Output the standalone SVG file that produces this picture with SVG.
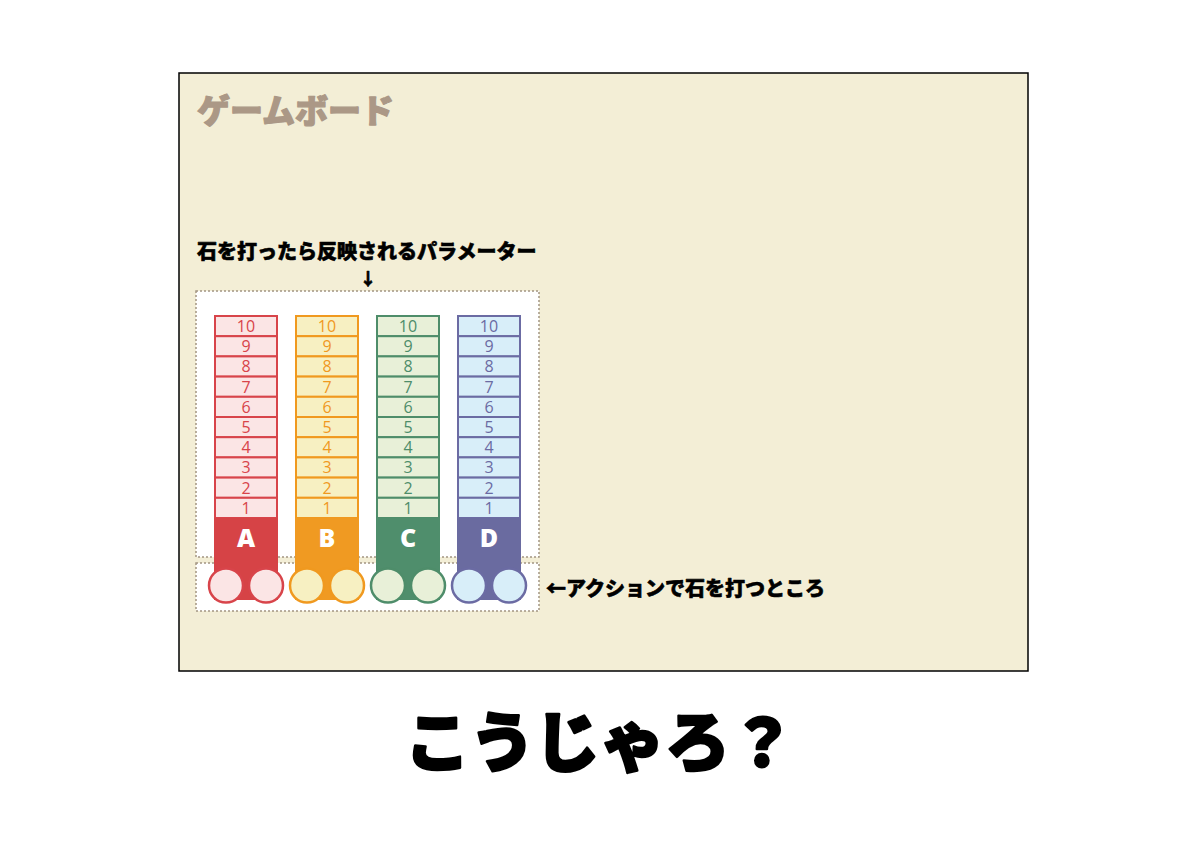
<svg xmlns="http://www.w3.org/2000/svg" width="1200" height="848" viewBox="0 0 1200 848">
<style>
.jp{font-family:"Noto Sans CJK JP","Noto Sans",sans-serif;font-weight:900;stroke-linejoin:round}
.num{font-family:"Open Sans","Noto Sans",sans-serif;font-weight:400;font-size:16px;text-anchor:middle}
.lab{font-family:"Open Sans","Noto Sans",sans-serif;font-weight:800;font-size:25px;fill:#fff;text-anchor:middle}
.dash{fill:#fff;stroke:#a39583;stroke-width:1.5;stroke-dasharray:2 2}
.cell{stroke-width:2}
circle{stroke-width:2.5}
.a rect.cell,.a circle{stroke:#d8444a;fill:#fbe5e5}.a .blk{fill:#d64346}.a .num{fill:#d8444a}
.b rect.cell,.b circle{stroke:#f0991f;fill:#f7f0c2}.b .blk{fill:#f09a22}.b .num{fill:#f0991f}
.c rect.cell,.c circle{stroke:#4e8d6a;fill:#e8f0d8}.c .blk{fill:#4f8e6c}.c .num{fill:#4e8d6a}
.d rect.cell,.d circle{stroke:#6b6ba3;fill:#d8eef9}.d .blk{fill:#6a6ba0}.d .num{fill:#6b6ba3}
</style>
<rect width="1200" height="848" fill="#fff"/>
<g id="board">
<rect x="179" y="73" width="849" height="598" fill="#f3eed6" stroke="#000" stroke-width="1.5"/>
<text class="jp" x="197" y="123" font-size="33" fill="#ab9886" stroke="#ab9886" stroke-width="1.2">ゲームボード</text>
</g>
<g id="param-area">
<rect class="dash" x="196" y="291" width="343" height="266"/>
<text class="jp" x="197" y="259" font-size="20" fill="#000" stroke="#000" stroke-width="0.6">石を打ったら反映されるパラメーター</text>
<text class="jp" x="368" y="285" font-size="17" fill="#000" stroke="#000" stroke-width="0.6" text-anchor="middle">↓</text>
</g>
<g id="action-area">
<rect class="dash" x="196" y="563" width="343" height="48"/>
<text class="jp" x="546" y="596" font-size="20" fill="#000" stroke="#000" stroke-width="0.6">←アクションで石を打つところ</text>
</g>
<g id="col-A" class="a">
<rect class="cell" x="215" y="316" width="62" height="20.2"/>
<rect class="cell" x="215" y="336.2" width="62" height="20.2"/>
<rect class="cell" x="215" y="356.4" width="62" height="20.2"/>
<rect class="cell" x="215" y="376.6" width="62" height="20.2"/>
<rect class="cell" x="215" y="396.8" width="62" height="20.2"/>
<rect class="cell" x="215" y="417" width="62" height="20.2"/>
<rect class="cell" x="215" y="437.2" width="62" height="20.2"/>
<rect class="cell" x="215" y="457.4" width="62" height="20.2"/>
<rect class="cell" x="215" y="477.6" width="62" height="20.2"/>
<rect class="cell" x="215" y="497.8" width="62" height="20.2"/>
<text class="num" x="246" y="332">10</text>
<text class="num" x="246" y="352.2">9</text>
<text class="num" x="246" y="372.4">8</text>
<text class="num" x="246" y="392.6">7</text>
<text class="num" x="246" y="412.8">6</text>
<text class="num" x="246" y="433">5</text>
<text class="num" x="246" y="453.2">4</text>
<text class="num" x="246" y="473.4">3</text>
<text class="num" x="246" y="493.6">2</text>
<text class="num" x="246" y="513.8">1</text>
<rect class="blk" x="214" y="518" width="64" height="82"/>
<circle cx="226" cy="585.5" r="17"/>
<circle cx="266" cy="585.5" r="17"/>
<text class="lab" x="246" y="547">A</text>
</g>
<g id="col-B" class="b">
<rect class="cell" x="296" y="316" width="62" height="20.2"/>
<rect class="cell" x="296" y="336.2" width="62" height="20.2"/>
<rect class="cell" x="296" y="356.4" width="62" height="20.2"/>
<rect class="cell" x="296" y="376.6" width="62" height="20.2"/>
<rect class="cell" x="296" y="396.8" width="62" height="20.2"/>
<rect class="cell" x="296" y="417" width="62" height="20.2"/>
<rect class="cell" x="296" y="437.2" width="62" height="20.2"/>
<rect class="cell" x="296" y="457.4" width="62" height="20.2"/>
<rect class="cell" x="296" y="477.6" width="62" height="20.2"/>
<rect class="cell" x="296" y="497.8" width="62" height="20.2"/>
<text class="num" x="327" y="332">10</text>
<text class="num" x="327" y="352.2">9</text>
<text class="num" x="327" y="372.4">8</text>
<text class="num" x="327" y="392.6">7</text>
<text class="num" x="327" y="412.8">6</text>
<text class="num" x="327" y="433">5</text>
<text class="num" x="327" y="453.2">4</text>
<text class="num" x="327" y="473.4">3</text>
<text class="num" x="327" y="493.6">2</text>
<text class="num" x="327" y="513.8">1</text>
<rect class="blk" x="295" y="518" width="64" height="82"/>
<circle cx="307" cy="585.5" r="17"/>
<circle cx="347" cy="585.5" r="17"/>
<text class="lab" x="327" y="547">B</text>
</g>
<g id="col-C" class="c">
<rect class="cell" x="377" y="316" width="62" height="20.2"/>
<rect class="cell" x="377" y="336.2" width="62" height="20.2"/>
<rect class="cell" x="377" y="356.4" width="62" height="20.2"/>
<rect class="cell" x="377" y="376.6" width="62" height="20.2"/>
<rect class="cell" x="377" y="396.8" width="62" height="20.2"/>
<rect class="cell" x="377" y="417" width="62" height="20.2"/>
<rect class="cell" x="377" y="437.2" width="62" height="20.2"/>
<rect class="cell" x="377" y="457.4" width="62" height="20.2"/>
<rect class="cell" x="377" y="477.6" width="62" height="20.2"/>
<rect class="cell" x="377" y="497.8" width="62" height="20.2"/>
<text class="num" x="408" y="332">10</text>
<text class="num" x="408" y="352.2">9</text>
<text class="num" x="408" y="372.4">8</text>
<text class="num" x="408" y="392.6">7</text>
<text class="num" x="408" y="412.8">6</text>
<text class="num" x="408" y="433">5</text>
<text class="num" x="408" y="453.2">4</text>
<text class="num" x="408" y="473.4">3</text>
<text class="num" x="408" y="493.6">2</text>
<text class="num" x="408" y="513.8">1</text>
<rect class="blk" x="376" y="518" width="64" height="82"/>
<circle cx="388" cy="585.5" r="17"/>
<circle cx="428" cy="585.5" r="17"/>
<text class="lab" x="408" y="547">C</text>
</g>
<g id="col-D" class="d">
<rect class="cell" x="458" y="316" width="62" height="20.2"/>
<rect class="cell" x="458" y="336.2" width="62" height="20.2"/>
<rect class="cell" x="458" y="356.4" width="62" height="20.2"/>
<rect class="cell" x="458" y="376.6" width="62" height="20.2"/>
<rect class="cell" x="458" y="396.8" width="62" height="20.2"/>
<rect class="cell" x="458" y="417" width="62" height="20.2"/>
<rect class="cell" x="458" y="437.2" width="62" height="20.2"/>
<rect class="cell" x="458" y="457.4" width="62" height="20.2"/>
<rect class="cell" x="458" y="477.6" width="62" height="20.2"/>
<rect class="cell" x="458" y="497.8" width="62" height="20.2"/>
<text class="num" x="489" y="332">10</text>
<text class="num" x="489" y="352.2">9</text>
<text class="num" x="489" y="372.4">8</text>
<text class="num" x="489" y="392.6">7</text>
<text class="num" x="489" y="412.8">6</text>
<text class="num" x="489" y="433">5</text>
<text class="num" x="489" y="453.2">4</text>
<text class="num" x="489" y="473.4">3</text>
<text class="num" x="489" y="493.6">2</text>
<text class="num" x="489" y="513.8">1</text>
<rect class="blk" x="457" y="518" width="64" height="82"/>
<circle cx="469" cy="585.5" r="17"/>
<circle cx="509" cy="585.5" r="17"/>
<text class="lab" x="489" y="547">D</text>
</g>
<g id="connectors"></g>
<g id="caption">
<text class="jp" x="600" y="766" font-size="65" fill="#000" stroke="#000" stroke-width="2.5" text-anchor="middle">こうじゃろ？</text>
</g>
</svg>
